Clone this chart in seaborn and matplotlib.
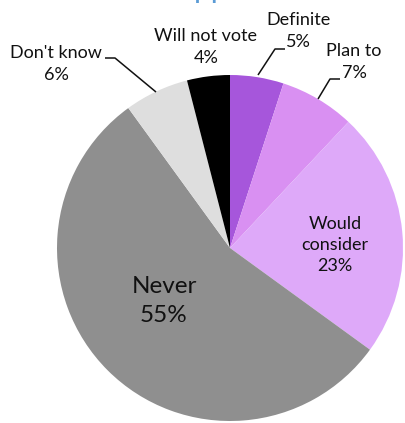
import matplotlib
matplotlib.use("Agg")
import matplotlib.pyplot as plt
import seaborn as sns

# Voting intention shares (percent), clockwise from the top
categories = ["Definite", "Plan to", "Would consider", "Never", "Don't know", "Will not vote"]
shares = [5, 7, 23, 55, 6, 4]
label_texts = ["Definite", "Plan to", "Would\nconsider", "Never", "Don't know", "Will not vote"]

slice_colors = ["#A656DB", "#D990F2", "#DEA9F9", "#8F8F8F", "#DEDEDE", "#000000"]

sns.set_theme(style="white")
plt.rcParams["font.family"] = ["Lato", "DejaVu Sans"]

W, H = 405, 423
fig = plt.figure(figsize=(W / 100, H / 100), dpi=100)
ax = fig.add_axes([0, 0, 1, 1])


def Y(y):
    """Convert a top-down pixel row into the upward axis coordinate."""
    return H - y


cx, cy, r = 230, Y(248), 173
ax.pie(shares, colors=slice_colors, startangle=90, counterclock=False,
       center=(cx, cy), radius=r, wedgeprops=dict(linewidth=0))
ax.set_xlim(0, W)
ax.set_ylim(0, H)
ax.set_aspect("auto")
ax.axis("off")

# Label placement (centre of each text block) and font sizes
label_pos = {
    "Definite": (298, 31, 13),
    "Plan to": (354, 62, 13),
    "Would consider": (335, 245, 13),
    "Never": (164, 301, 17.5),
    "Don't know": (56, 64, 13),
    "Will not vote": (206, 47, 13),
}

for cat, txt, val in zip(categories, label_texts, shares):
    x, y, fs = label_pos[cat]
    ax.text(x, Y(y), f"{txt}\n{val}%", ha="center", va="center",
            fontsize=fs, color="#111111", linespacing=1.42)

# Leader lines for the small outer labels
leaders = [
    [(258, 75), (275, 49), (285, 49)],
    [(318, 99), (330, 79), (340, 79)],
    [(105, 58), (115, 58), (156, 92)],
]
for pts in leaders:
    xs = [p[0] for p in pts]
    ys = [Y(p[1]) for p in pts]
    ax.plot(xs, ys, color="#111111", linewidth=1.1, solid_capstyle="butt")

# Chart title sits above the top edge
ax.text(214, Y(-2), "Support", ha="center", va="baseline",
        fontsize=21.5, color="#5B9BD5", clip_on=False)

fig.savefig("out.png", dpi=100)
